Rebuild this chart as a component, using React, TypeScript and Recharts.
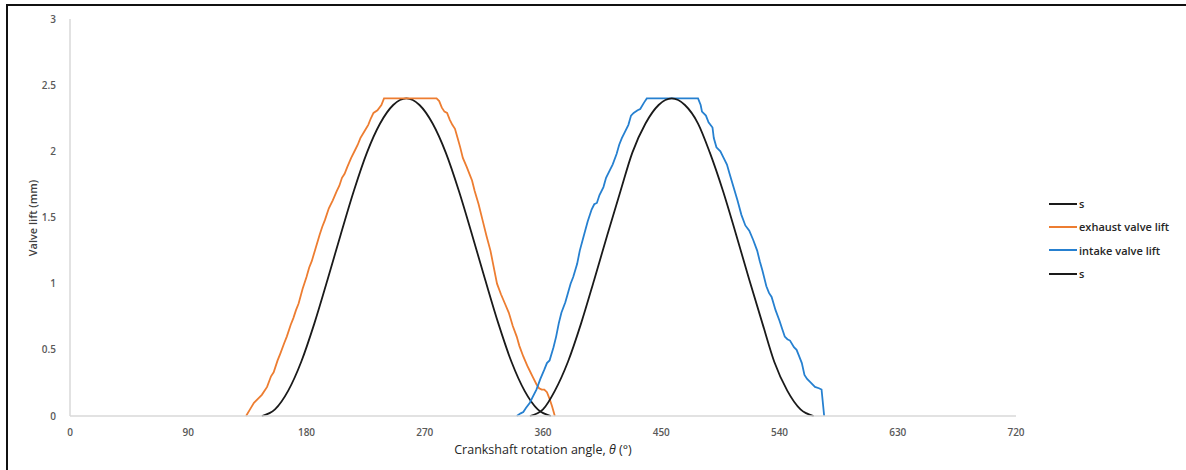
import { LineChart, Line, XAxis, YAxis } from 'recharts'

const xTicks = [0, 90, 180, 270, 360, 450, 540, 630, 720]
const yTicks = [0, 0.5, 1, 1.5, 2, 2.5, 3]

// first cam profile "s"
const s1Angle = [146, 156, 166, 176, 186, 196, 206, 216, 226, 236, 246, 256, 266, 276, 286, 296, 306, 316, 326, 336, 346, 356, 366]
const s1Lift = [0, 0.05, 0.19, 0.41, 0.7, 1.03, 1.37, 1.7, 1.99, 2.21, 2.35, 2.4, 2.35, 2.21, 1.99, 1.7, 1.37, 1.03, 0.7, 0.41, 0.19, 0.05, 0]

// second cam profile "s"
const s2Angle = [350, 360, 369, 379, 389, 399, 409, 419, 428, 438, 448, 458, 468, 478, 487, 497, 507, 517, 527, 536, 546, 556, 566]
const s2Lift = [0, 0.05, 0.19, 0.41, 0.7, 1.03, 1.37, 1.7, 1.99, 2.21, 2.35, 2.4, 2.35, 2.21, 1.99, 1.7, 1.37, 1.03, 0.7, 0.41, 0.19, 0.05, 0]

const exhaustAngle = [134, 137, 140, 143, 146, 150, 153, 155, 158, 160, 163, 165, 168, 170, 172, 174, 177, 180, 182, 184, 187, 190, 192, 194, 197, 200, 203, 205, 207, 209, 211, 214, 217, 219, 221, 224, 227, 229, 231, 234, 237, 239,
  279, 281, 283, 285, 287, 289, 291, 293, 295, 297, 299, 302, 304, 306, 308, 311, 314, 317, 320, 322, 325, 328, 331, 334, 337, 340, 342, 345, 348, 350, 352, 355, 357, 359, 361, 363, 365, 367, 369]
const exhaustLift = [0, 0.05, 0.1, 0.13, 0.16, 0.22, 0.3, 0.33, 0.42, 0.47, 0.55, 0.6, 0.69, 0.74, 0.8, 0.85, 0.96, 1.05, 1.12, 1.17, 1.27, 1.37, 1.43, 1.48, 1.57, 1.63, 1.7, 1.74, 1.8, 1.83, 1.88, 1.95, 2.01, 2.05, 2.1, 2.15, 2.2, 2.25, 2.29, 2.31, 2.35, 2.4,
  2.4, 2.38, 2.33, 2.3, 2.29, 2.24, 2.2, 2.17, 2.1, 2.03, 1.95, 1.88, 1.83, 1.78, 1.7, 1.6, 1.48, 1.36, 1.25, 1.15, 1.0, 0.92, 0.85, 0.78, 0.68, 0.6, 0.53, 0.45, 0.38, 0.34, 0.3, 0.24, 0.21, 0.2, 0.2, 0.18, 0.13, 0.07, 0]

const intakeAngle = [340, 343, 345, 347, 350, 352, 355, 358, 361, 363, 365, 368, 370, 372, 374, 377, 379, 381, 383, 386, 388, 391, 394, 397, 399, 401, 403, 406, 408, 411, 413, 416, 418, 420, 422, 425, 427, 429, 432, 434, 437, 439,
  478, 480, 481, 484, 486, 489, 490, 492, 495, 497, 500, 502, 505, 508, 511, 514, 517, 520, 523, 525, 527, 530, 532, 534, 537, 540, 542, 544, 546, 548, 551, 553, 555, 557, 559, 561, 564, 567, 570, 572, 574]
const intakeLift = [0, 0.02, 0.03, 0.06, 0.1, 0.14, 0.2, 0.28, 0.35, 0.4, 0.42, 0.52, 0.6, 0.7, 0.78, 0.86, 0.93, 1.0, 1.05, 1.15, 1.25, 1.36, 1.47, 1.56, 1.6, 1.61, 1.67, 1.73, 1.8, 1.86, 1.9, 1.98, 2.05, 2.1, 2.14, 2.2, 2.27, 2.29, 2.31, 2.32, 2.37, 2.4,
  2.4, 2.35, 2.3, 2.27, 2.22, 2.18, 2.1, 2.03, 2.0, 1.96, 1.9, 1.83, 1.73, 1.63, 1.52, 1.44, 1.4, 1.33, 1.25, 1.17, 1.1, 0.98, 0.93, 0.9, 0.8, 0.72, 0.66, 0.6, 0.58, 0.57, 0.52, 0.5, 0.45, 0.4, 0.31, 0.28, 0.25, 0.22, 0.21, 0.2, 0]

const seriesNames = ['s', 'exhaust valve lift', 'intake valve lift', 's']
const seriesColors = ['#1a1a1a', '#ED7D31', '#2680D0', '#1a1a1a']

const toPoints = (angles: number[], lifts: number[]) => angles.map((angle, i) => ({ angle, lift: lifts[i] }))

const FONT = '"Open Sans", "DejaVu Sans", sans-serif'

export default function App() {
  const series = [
    toPoints(s1Angle, s1Lift),
    toPoints(exhaustAngle, exhaustLift),
    toPoints(intakeAngle, intakeLift),
    toPoints(s2Angle, s2Lift),
  ]
  return (
    <div style={{ position: 'absolute', left: 0, top: 0, width: 1186, height: 470, background: '#fff' }}>
      <div style={{ position: 'absolute', left: 6, top: 4, right: 0, bottom: 0, borderTop: '2px solid #111', borderLeft: '2px solid #111' }} />
      <LineChart width={1186} height={470} margin={{ top: 19, right: 170, left: 0, bottom: 0 }} style={{ position: 'absolute', left: 0, top: 0 }}>
        <XAxis type="number" dataKey="angle" domain={[0, 720]} ticks={xTicks} height={54}
          tickLine={false} axisLine={{ stroke: '#d9d9d9', strokeWidth: 1.5 }} tickMargin={7}
          tick={{ fill: '#595959', fontSize: 10, fontWeight: 600, fontFamily: FONT }} allowDuplicatedCategory={false} />
        <YAxis type="number" domain={[0, 3]} ticks={yTicks} width={70}
          tickLine={false} axisLine={{ stroke: '#d9d9d9', strokeWidth: 1.5 }} tickMargin={8}
          tick={{ fill: '#595959', fontSize: 10, fontWeight: 600, fontFamily: FONT }} />
        {series.map((d, i) => (
          <Line key={i} data={d} dataKey="lift" name={seriesNames[i]}
            type={seriesColors[i] === '#1a1a1a' ? 'monotone' : 'linear'}
            stroke={seriesColors[i]} strokeWidth={1.8} dot={false} isAnimationActive={false} />
        ))}
      </LineChart>
      <div style={{ position: 'absolute', left: 1049, top: 192, fontFamily: FONT, fontSize: 11, fontWeight: 600, color: '#262626' }}>
        {seriesNames.map((name, i) => (
          <div key={i} style={{ display: 'flex', alignItems: 'center', height: 23.3 }}>
            <span style={{ display: 'inline-block', width: 28, height: 2, background: seriesColors[i], marginRight: 2 }} />
            <span>{name}</span>
          </div>
        ))}
      </div>
      <div style={{ position: 'absolute', left: 32, top: 218, transform: 'translate(-50%, -50%) rotate(-90deg)', whiteSpace: 'nowrap', fontFamily: FONT, fontSize: 11, fontWeight: 600, color: '#404040' }}>
        Valve lift (mm)
      </div>
      <div style={{ position: 'absolute', left: 543, top: 449, transform: 'translate(-50%, -50%)', whiteSpace: 'nowrap', fontFamily: FONT, fontSize: 12.5, color: '#262626' }}>
        Crankshaft rotation angle, <i>θ</i> (°)
      </div>
    </div>
  )
}
